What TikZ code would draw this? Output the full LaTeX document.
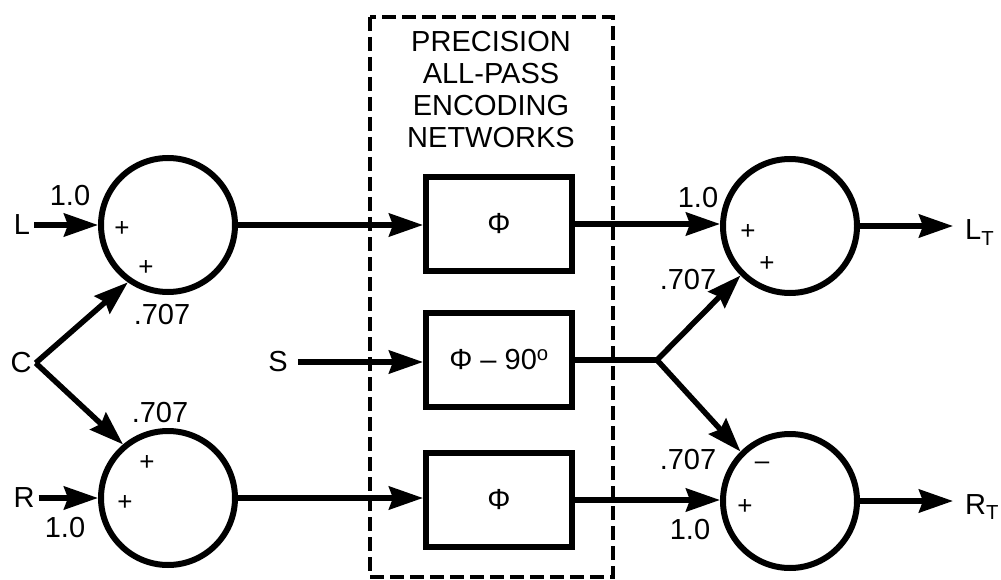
\documentclass[tikz,border=0pt]{standalone}
\usepackage{fontspec}
\setmainfont{Liberation Sans}
\usetikzlibrary{arrows.meta}
\begin{document}
\begin{tikzpicture}[x=1pt,y=-1pt,
  sumnode/.style={circle,draw,line width=6pt,minimum size=134pt,inner sep=0pt},
  netbox/.style={rectangle,draw,line width=6pt,minimum width=146pt,minimum height=94pt,inner sep=0pt,font=\fontsize{29}{32}\selectfont},
  lbl/.style={inner sep=0pt,font=\fontsize{29}{32}\selectfont},
  io/.style={inner sep=4pt,font=\fontsize{29}{32}\selectfont},
  sgn/.style={inner sep=0pt,font=\fontsize{26}{28}\selectfont},
  conn/.style={line width=5.5pt,-{Stealth[length=34pt,width=23pt,inset=4pt]}},
  wire/.style={line width=5.5pt},
  group/.style={draw,line width=3.5pt,dash pattern=on 14pt off 6pt},
]
\useasboundingbox (0,0) rectangle (1001,580);
% dashed group
\draw[group] (370,17) rectangle (613,577);
\node[lbl,align=center] (title) at (491,90) {PRECISION\\ALL-PASS\\ENCODING\\NETWORKS};
% boxes
\node[netbox] (b1) at (499,224) {Φ};
\node[netbox] (b2) at (499,360) {Φ – 90\textsuperscript{o}};
\node[netbox] (b3) at (499,500) {Φ};
% circles
\node[sumnode] (lt) at (168,225) {};
\node[sumnode] (lb) at (168,498) {};
\node[sumnode] (rt) at (790,226) {};
\node[sumnode] (rb) at (790,501) {};
% inputs
\node[io] (L) at (22,225) {L};
\node[io] (R) at (24,498) {R};
\node[io] (C) at (21,363) {C};
\node[io,inner xsep=10pt] (S) at (278,362) {S};
\node[io,anchor=base west,inner xsep=12pt] (LT) at (953,240) {L\textsubscript{T}};
\node[io,anchor=base west,inner xsep=12pt] (RT) at (953,514) {R\textsubscript{T}};
\coordinate (br) at (657,360);
% connectors
\draw[conn] (L.east) -- (lt.west);
\draw[conn] (R.east) -- (lb.west);
\draw[conn] (C.east) -- (lt.235);
\draw[conn] (C.east) -- (lb.130);
\draw[conn] (lt.east) -- (lt.east -| b1.west);
\draw[conn] (lb.east) -- (lb.east -| b3.west);
\draw[conn] (S.east) -- (S.east -| b2.west);
\draw[conn] (b1.east) -- (b1.east -| rt.west);
\draw[conn] (b3.east) -- (b3.east -| rb.west);
\draw[wire] (b2.east) -- (br);
\draw[conn] (br) -- (rt.225);
\draw[conn] (br) -- (rb.135);
\draw[conn] (rt.east) -- (rt.east -| LT.west);
\draw[conn] (rb.east) -- (rb.east -| RT.west);
% gains
\node[lbl] (g1) at (70,196) {1.0};
\node[lbl] (g2) at (162,315) {.707};
\node[lbl] (g3) at (160,413) {.707};
\node[lbl] (g4) at (65,528) {1.0};
\node[lbl] (g5) at (698,198) {1.0};
\node[lbl] (g6) at (688,280) {.707};
\node[lbl] (g7) at (688,460) {.707};
\node[lbl] (g8) at (690,530) {1.0};
% signs
\node[sgn] (s1) at (122,229) {+};
\node[sgn] (s2) at (146,268) {+};
\node[sgn] (s3) at (147,463) {+};
\node[sgn] (s4) at (125,503) {+};
\node[sgn] (s5) at (748,232) {+};
\node[sgn] (s6) at (767,264) {+};
\node[sgn] (s7) at (762,466) {–};
\node[sgn] (s8) at (745,507) {+};
\end{tikzpicture}
\end{document}
